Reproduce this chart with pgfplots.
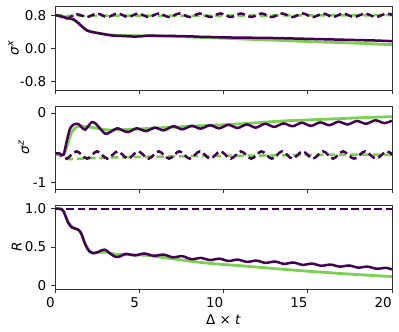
\documentclass[border=0pt]{standalone}
\usepackage{fontspec}
\setmainfont{DejaVu Sans}
\usepackage{pgfplots}
\pgfplotsset{compat=1.18}
\definecolor{vpurple}{RGB}{68,1,84}
\definecolor{vgreen}{RGB}{122,209,81}
\pgfplotsset{
  myax/.style={
    width=337pt, height=84pt, scale only axis,
    xmin=0, xmax=20, xtick={0,5,10,15,20},
    axis line style={black!80, line width=0.8pt},
    tick style={black!80, line width=0.8pt},
    tick align=outside, major tick length=4pt, tick pos=left,
    /pgf/number format/assume math mode=true,
    tick label style={font=\fontsize{13.5}{16}\selectfont},
    xticklabel style={anchor=north east, inner xsep=0pt},
    label style={font=\fontsize{13.5}{16}\selectfont},
  },
  ps/.style={vpurple, line width=2.5pt, smooth},
  gs/.style={vgreen, line width=2.8pt, smooth},
  pd/.style={vpurple, line width=2.5pt, smooth, dash pattern=on 7.6pt off 3.8pt},
  gd/.style={vgreen, line width=2.6pt, smooth, dash pattern=on 7.6pt off 3.8pt},
}
\begin{document}
\fontsize{13.5}{16}\selectfont
\begin{tikzpicture}
\useasboundingbox (0pt,0pt) rectangle (399pt,332pt);
% ---------------- sigma^x
\begin{axis}[myax, at={(55pt,326pt)}, anchor=north west,
  ymin=-1, ymax=1.02, ytick={-0.8,0,0.8}, yticklabels={-0.8,0.0,0.8},
  xticklabels={},
  ylabel={\textit{σ}\textsuperscript{\textit{x}}},
  ylabel style={at={(axis description cs:-0.123,0.5)}, anchor=center}]
\addplot[gd] coordinates {(0,0.80) (0.5,0.79) (1,0.78) (3,0.785) (6,0.79) (10,0.79) (15,0.795) (20,0.80)};
\addplot[pd] coordinates {(0,0.80) (0.35,0.77) (0.7,0.72) (1.28,0.82) (1.9,0.755) (2.5,0.84) (3.1,0.755) (3.72,0.84) (4.33,0.755) (4.94,0.84) (5.55,0.755) (6.16,0.84) (6.77,0.755) (7.38,0.84) (7.99,0.755) (8.6,0.84) (9.21,0.755) (9.82,0.84) (10.43,0.755) (11.04,0.84) (11.65,0.755) (12.26,0.84) (12.87,0.755) (13.48,0.84) (14.09,0.755) (14.7,0.84) (15.31,0.755) (15.92,0.84) (16.5,0.755) (17.1,0.84) (17.75,0.755) (18.4,0.84) (19.05,0.755) (19.7,0.84) (20.3,0.755)};
\addplot[gs] coordinates {(0,0.80) (0.5,0.77) (0.9,0.72) (1.2,0.66) (1.5,0.56) (1.8,0.46) (2.1,0.41) (2.5,0.37) (3.0,0.34) (3.5,0.32) (4,0.31) (5,0.305) (6,0.30) (7,0.29) (8,0.275) (9,0.26) (10,0.245) (11.5,0.22) (13.5,0.19) (15,0.165) (17,0.14) (18.5,0.115) (20,0.09)};
\addplot[ps] coordinates {(0,0.80) (0.3,0.78) (0.6,0.74) (0.9,0.72) (1.1,0.70) (1.3,0.64) (1.6,0.53) (1.9,0.43) (2.2,0.395) (2.6,0.365) (3.0,0.335) (3.4,0.31) (3.9,0.30) (4.4,0.29) (4.8,0.285) (5.2,0.295) (5.6,0.31) (6.0,0.305) (6.5,0.30) (7.0,0.30) (7.5,0.295) (8.0,0.29) (8.6,0.28) (9.2,0.275) (10.0,0.265) (11.0,0.26) (12.0,0.255) (13.0,0.25) (14.0,0.24) (15.0,0.23) (16.0,0.22) (17.0,0.21) (18.0,0.20) (19.0,0.19) (20.0,0.175)};
\end{axis}
% ---------------- sigma^z
\begin{axis}[myax, at={(55pt,226pt)}, anchor=north west, height=83pt,
  ymin=-1.09, ymax=0.1, ytick={-1,0}, yticklabels={-1,0},
  xticklabels={},
  ylabel={\textit{σ}\textsuperscript{\textit{z}}},
  ylabel style={at={(axis description cs:-0.092,0.5)}, anchor=center}]
\addplot[gd] coordinates {(0,-0.58) (0.4,-0.61) (0.8,-0.66) (1.5,-0.655) (3,-0.64) (5,-0.63) (8,-0.62) (12,-0.61) (16,-0.60) (20,-0.60)};
\addplot[pd] coordinates {(0,-0.58) (0.35,-0.61) (0.7,-0.655) (1.28,-0.55) (1.9,-0.655) (2.5,-0.55) (3.1,-0.655) (3.72,-0.55) (4.33,-0.655) (4.94,-0.55) (5.55,-0.655) (6.16,-0.55) (6.77,-0.655) (7.38,-0.55) (7.99,-0.655) (8.6,-0.55) (9.21,-0.655) (9.82,-0.55) (10.43,-0.655) (11.04,-0.55) (11.65,-0.655) (12.26,-0.55) (12.87,-0.655) (13.48,-0.55) (14.09,-0.655) (14.7,-0.55) (15.31,-0.655) (15.92,-0.55) (16.5,-0.655) (17.1,-0.55) (17.75,-0.655) (18.4,-0.55) (19.05,-0.655) (19.7,-0.55) (20.3,-0.655)};
\addplot[gs] coordinates {(0,-0.58) (0.5,-0.60) (0.75,-0.45) (1.0,-0.27) (1.3,-0.20) (1.6,-0.19) (2.0,-0.20) (2.5,-0.22) (3,-0.24) (3.5,-0.245) (4,-0.24) (5,-0.23) (6,-0.215) (7,-0.205) (8,-0.19) (10,-0.17) (12,-0.14) (13.5,-0.115) (15,-0.10) (17,-0.08) (18.5,-0.065) (20,-0.053)};
\addplot[ps] coordinates {(0,-0.58) (0.25,-0.58) (0.5,-0.60) (0.7,-0.40) (0.9,-0.22) (1.15,-0.16) (1.4,-0.16) (1.6,-0.21) (1.8,-0.24) (2.0,-0.18) (2.2,-0.13) (2.4,-0.15) (2.7,-0.23) (3.0,-0.30) (3.3,-0.27) (3.7,-0.22) (4.1,-0.26) (4.4,-0.27) (4.85,-0.22) (5.4,-0.26) (5.93,-0.21) (6.45,-0.25) (7.02,-0.19) (7.56,-0.235) (8.11,-0.185) (8.65,-0.225) (9.2,-0.175) (9.74,-0.22) (10.29,-0.17) (10.83,-0.215) (11.38,-0.165) (11.92,-0.21) (12.47,-0.155) (13.01,-0.20) (13.56,-0.15) (14.1,-0.19) (14.65,-0.14) (15.19,-0.185) (15.74,-0.135) (16.28,-0.175) (16.83,-0.125) (17.37,-0.165) (17.92,-0.115) (18.46,-0.155) (19.01,-0.105) (19.55,-0.145) (20.0,-0.11)};
\end{axis}
% ---------------- R
\begin{axis}[myax, at={(55pt,127pt)}, anchor=north west,
  ymin=-0.05, ymax=1.05, ytick={0,0.5,1}, yticklabels={0,0.5,1.0},
  xlabel={Δ × \textit{t}},
  xlabel style={yshift=2.5pt},
  ylabel={\textit{R}},
  ylabel style={at={(axis description cs:-0.114,0.5)}, anchor=center}]
\addplot[gd] coordinates {(0,1) (20,1)};
\addplot[pd] coordinates {(0,1) (20,1)};
\addplot[gs] coordinates {(0,1.0) (0.3,1.0) (0.5,0.97) (0.8,0.82) (1.05,0.76) (1.35,0.73) (1.55,0.68) (1.8,0.54) (2.05,0.45) (2.3,0.42) (2.7,0.43) (3.1,0.43) (3.6,0.405) (4.2,0.40) (5,0.395) (5.5,0.39) (6,0.375) (6.5,0.36) (7,0.345) (8,0.315) (9,0.29) (10,0.27) (11,0.255) (12.5,0.227) (14,0.20) (15,0.183) (16.5,0.16) (17.5,0.145) (19,0.125) (20,0.112)};
\addplot[ps] coordinates {(0,1.0) (0.3,1.0) (0.5,0.97) (0.8,0.81) (1.05,0.75) (1.35,0.73) (1.55,0.68) (1.8,0.53) (2.05,0.44) (2.3,0.42) (2.55,0.435) (2.95,0.465) (3.3,0.41) (3.6,0.37) (3.9,0.38) (4.2,0.41) (4.75,0.39) (5.3,0.415) (5.85,0.385) (6.45,0.40) (7.0,0.365) (7.55,0.38) (8.1,0.34) (8.65,0.357) (9.2,0.329) (9.75,0.347) (10.3,0.317) (10.85,0.335) (11.4,0.305) (11.95,0.322) (12.5,0.292) (13.05,0.31) (13.6,0.279) (14.15,0.297) (14.7,0.266) (15.25,0.283) (15.8,0.254) (16.35,0.27) (16.9,0.243) (17.45,0.258) (18.0,0.23) (18.55,0.243) (19.1,0.215) (19.65,0.228) (20,0.205)};
\end{axis}
\end{tikzpicture}
\end{document}
